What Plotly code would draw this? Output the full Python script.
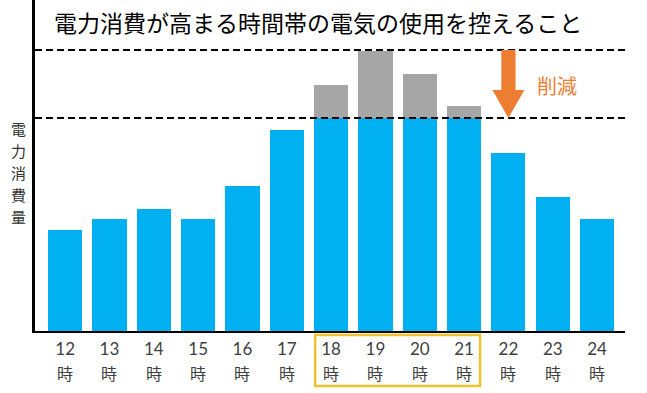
import plotly.graph_objects as go

# ---- data ----
hours = ["12", "13", "14", "15", "16", "17", "18", "19", "20", "21", "22", "23", "24"]
hour_suffix = "時"
usage = [101, 112, 122, 112, 145, 201, 246, 280, 257, 225, 178, 134, 112]
cap_level = 213          # lower dashed line (after reduction)
peak_level = 281         # upper dashed line (peak)
title_text = "電力消費が高まる時間帯の電気の使用を控えること"
ylabel_text = "電力消費量"
reduce_text = "削減"
highlight = ["18", "19", "20", "21"]

BLUE = "#00B0F0"
GRAY = "#A6A6A6"
ORANGE = "#ED7D31"
GOLD = "#F2C12E"
FONT = "Noto Sans CJK JP"
PLOT_H = 331  # plot-area height in px

x = list(range(len(hours)))
blue_part = [min(v, cap_level) for v in usage]
gray_part = [max(v - cap_level, 0) for v in usage]

fig = go.Figure()
fig.add_bar(x=x, y=blue_part, marker=dict(color=BLUE, line=dict(width=0)), width=0.77, hoverinfo="skip")
fig.add_bar(x=x, y=gray_part, marker=dict(color=GRAY, line=dict(width=0)), width=0.77, hoverinfo="skip")

# dashed reference lines
for lvl in (peak_level, cap_level):
    fig.add_shape(type="line", xref="paper", x0=0, x1=1, yref="y", y0=lvl, y1=lvl,
                  line=dict(color="black", width=2, dash="7px,4px"))

# gold rectangle around highlighted tick labels
i0 = hours.index(highlight[0])
i1 = hours.index(highlight[-1])
fig.add_shape(type="rect", xref="x", yref="paper", x0=i0 - 0.36, x1=i1 + 0.36, y0=-4 / PLOT_H, y1=-55 / PLOT_H,
              line=dict(color=GOLD, width=2.5), fillcolor="rgba(0,0,0,0)")

# second line of each tick label ("時")
for xi in x:
    fig.add_annotation(x=xi, y=-42 / PLOT_H, xref="x", yref="paper", text=hour_suffix, showarrow=False,
                       xanchor="center", yanchor="middle",
                       font=dict(family=FONT, size=16, color="#404040"))

# orange reduction arrow on the 22 bar column
ax = hours.index("22")
head_top = 241
hw, sw = 0.36, 0.16
path = (f"M {ax-sw},{peak_level} L {ax+sw},{peak_level} L {ax+sw},{head_top} L {ax+hw},{head_top} "
        f"L {ax},{cap_level} L {ax-hw},{head_top} L {ax-sw},{head_top} Z")
fig.add_shape(type="path", path=path, xref="x", yref="y", fillcolor=ORANGE, line=dict(width=0))

fig.add_annotation(x=ax + 1.1, y=246, xref="x", yref="y", text=reduce_text, showarrow=False,
                   xanchor="center", yanchor="middle",
                   font=dict(family=FONT, size=20, color=ORANGE))

# title
fig.add_annotation(x=0.48, y=1 - 22 / PLOT_H, xref="paper", yref="paper", text=title_text, showarrow=False,
                   xanchor="center", yanchor="middle",
                   font=dict(family=FONT, size=23, color="black"))

# vertical y label (one character per line)
for k, ch in enumerate(ylabel_text):
    fig.add_annotation(x=-17 / 590, y=(PLOT_H - (128 + 22 * k)) / PLOT_H, xref="paper", yref="paper",
                       text=ch, showarrow=False, xanchor="center", yanchor="middle",
                       font=dict(family=FONT, size=15, color="#333333"))

fig.update_layout(
    width=647, height=393,
    margin=dict(l=35, r=22, t=0, b=62),
    barmode="stack",
    showlegend=False,
    plot_bgcolor="white", paper_bgcolor="white",
    font=dict(family=FONT),
)
fig.update_xaxes(range=[-0.68, 12.63], tickmode="array", tickvals=x, ticktext=hours,
                 showline=True, linecolor="black", linewidth=2, showgrid=False, zeroline=False,
                 ticks="", ticklabelstandoff=2, tickfont=dict(family="Lato", size=17, color="#404040"))
fig.update_yaxes(range=[0, PLOT_H], showline=True, linecolor="black", linewidth=3, showgrid=False,
                 zeroline=False, showticklabels=False, ticks="")

fig.write_html("out.html", config={"displayModeBar": False},
               post_script="document.body.style.margin='0';")
